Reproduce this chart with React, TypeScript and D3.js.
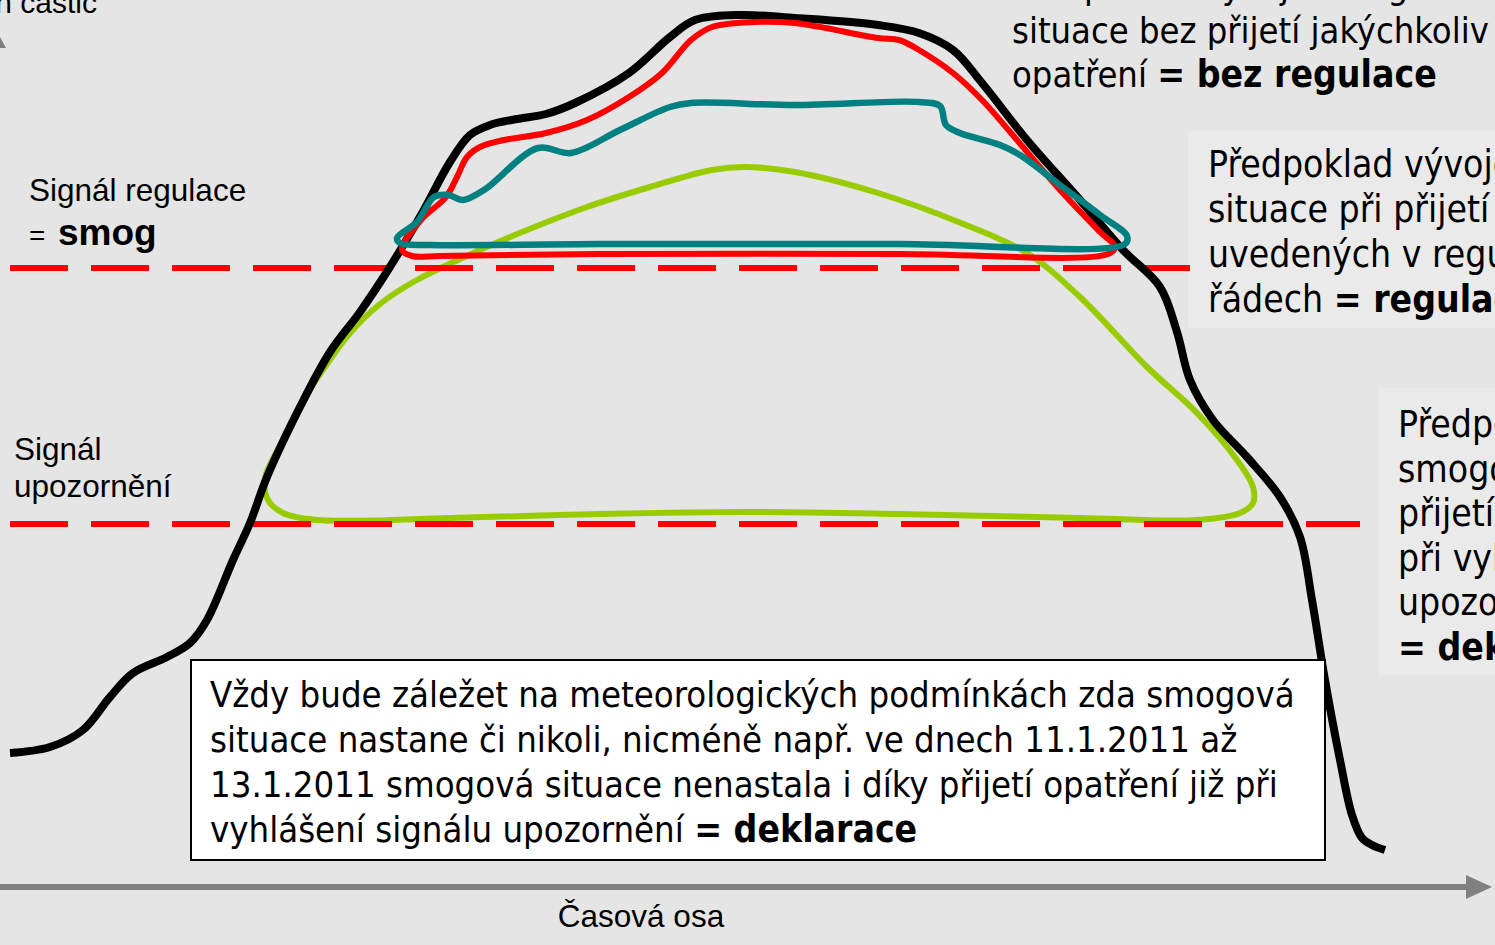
import * as d3 from 'd3';

const W = 1495;
const H = 945;

// time (x) and concentration (y) in chart units
const bezRegulace: [number, number][] = [
  [1.0, 13.4], [5.0, 14.0], [8.3, 15.7], [11.0, 19.0], [13.3, 21.4], [16.7, 23.0], [19.0, 24.4],
  [20.7, 26.7], [23.3, 32.7], [25.0, 36.4], [26.7, 41.0], [30.0, 48.0], [33.0, 53.5], [36.0, 57.5],
  [38.8, 61.7], [42.1, 67.2], [45.0, 72.5], [47.0, 75.2], [49.0, 76.2], [51.7, 76.8], [54.6, 77.3], [57.5, 78.4],
  [62.9, 81.4], [67.0, 85.0], [69.5, 86.7], [74.1, 87.2], [79.5, 86.9], [87.8, 86.2], [91.9, 85.4],
  [95.3, 83.7], [98.2, 80.4], [102.7, 74.7], [108.0, 68.7], [112.3, 63.7], [116.0, 60.0], [117.7, 55.5],
  [119.0, 50.7], [121.3, 46.7], [124.7, 43.0], [128.0, 39.0], [130.0, 35.0], [131.2, 28.7], [132.5, 20.7],
  [134.0, 12.7], [135.2, 7.2], [136.2, 4.9], [137.2, 4.2], [138.5, 3.7],
];

const regulaceRed: [number, number][] = [
  [40.2, 63.7], [42.1, 66.7], [44.6, 69.0], [45.7, 71.0], [46.7, 73.0], [48.0, 74.0], [50.4, 74.7],
  [54.6, 75.4], [58.7, 76.7], [62.9, 79.0], [66.2, 81.4], [69.1, 84.7], [71.2, 86.0], [75.3, 86.5],
  [79.5, 86.4], [87.8, 84.9], [89.9, 84.7], [91.9, 83.7], [95.3, 81.4], [98.2, 78.7], [101.1, 75.4],
  [106.0, 69.7], [110.0, 65.5], [111.5, 64.0], [110.8, 63.3], [90.0, 63.3], [60.0, 63.3], [44.0, 63.1],
  [41.2, 63.1],
];

const regulaceTeal: [number, number][] = [
  [39.7, 64.9], [41.7, 66.5], [43.4, 69.0], [44.8, 69.2], [46.3, 68.7], [48.4, 69.7], [53.8, 73.9],
  [57.1, 73.4], [62.0, 75.7], [67.0, 78.0], [69.1, 78.4], [79.5, 78.2], [91.9, 78.5], [94.0, 78.1],
  [94.6, 76.2], [96.0, 75.4], [100.0, 74.2], [102.0, 73.2], [106.0, 70.2], [110.0, 67.2], [112.7, 65.1],
  [112.5, 64.3], [90.0, 64.3], [60.0, 64.3], [43.0, 64.2], [40.0, 64.4],
];

const deklarace: [number, number][] = [
  [26.5, 40.9], [28.3, 44.7], [30.0, 48.2], [32.5, 52.0], [35.0, 55.4], [38.0, 58.3], [41.5, 60.6],
  [46.0, 62.8], [51.0, 65.0], [58.7, 68.0], [65.0, 70.0], [71.2, 71.7], [74.5, 72.0], [79.5, 71.5], [87.8, 69.4],
  [96.1, 66.4], [102.7, 63.4], [108.0, 59.0], [114.7, 52.0], [119.7, 47.4], [123.7, 42.7], [125.3, 40.0],
  [125.3, 38.4], [124.0, 37.4], [119.7, 36.7], [108.0, 36.9], [90.0, 37.3], [75.0, 37.5], [60.0, 37.3],
  [45.0, 36.9], [31.7, 36.7], [28.3, 37.4], [26.8, 38.7],
];

// signal thresholds: [level, x start, x end]
const signalSmog = [61.9, 1.0, 119.0];
const signalWarning = [36.3, 1.0, 136.0];

const topRightLines = ['Předpoklad vývoje smogové', 'situace bez přijetí jakýchkoliv'];
const topRightLast = ['opatření ', '=  bez regulace'];
const box1Lines = ['Předpoklad vývoje smogové', 'situace při přijetí opatření', 'uvedených v regulačních'];
const box1Last = ['řádech ', '= regulace'];
const box2Lines = ['Předpoklad vývoje', 'smogové situace při', 'přijetí opatření již', 'při vyhlášení signálu', 'upozornění'];
const box2Last = ['', '= deklarace'];
const noteLines = [
  'Vždy bude záležet na meteorologických podmínkách zda smogová',
  'situace nastane či nikoli, nicméně např. ve dnech 11.1.2011 až',
  '13.1.2011 smogová situace nenastala i díky přijetí opatření již při',
];
const noteLast = ['vyhlášení signálu upozornění ', '= deklarace'];

const ARIAL = "'Liberation Sans', Arial, sans-serif";
const TAHOMA = "Tahoma, 'DejaVu Sans Condensed', 'DejaVu Sans', sans-serif";

export default function App() {
  const x = d3.scaleLinear().domain([0, 149.5]).range([0, W]);
  const y = d3.scaleLinear().domain([0, 88.7]).range([887, 0]);

  const open = d3.line<[number, number]>().x((d) => x(d[0])).y((d) => y(d[1])).curve(d3.curveCatmullRom.alpha(0.5));
  const closed = d3.line<[number, number]>().x((d) => x(d[0])).y((d) => y(d[1])).curve(d3.curveCatmullRomClosed.alpha(0.5));

  const taStyle = { fontFamily: TAHOMA, fontStretch: 'condensed' as const };

  const lines = (list: string[], last: string[], x0: number, y0: number, step: number, size: number, boldSize = size) => (
    <g style={taStyle} fontSize={size} fill="#000">
      {list.map((t, i) => (
        <text key={i} x={x0} y={y0 + i * step}>{t}</text>
      ))}
      <text x={x0} y={y0 + list.length * step}>
        {last[0]}<tspan fontWeight="bold" fontSize={boldSize}>{last[1]}</tspan>
      </text>
    </g>
  );

  return (
    <svg width={W} height={H} style={{ position: 'absolute', left: 0, top: 0, display: 'block' }}>
      <rect width={W} height={H} fill="#e5e5e5" />

      {/* axes */}
      <line x1={0} x2={1470} y1={887} y2={887} stroke="#808080" strokeWidth={6} />
      <path d="M1466,875 L1492,887 L1466,899 Z" fill="#808080" />
      <path d="M-6,26 L6,48 L-18,48 Z" fill="#808080" />
      <text x={97} y={13} fontFamily={ARIAL} fontSize={30} textAnchor="end">Koncentrace prachových částic</text>
      <text x={641} y={927} fontFamily={ARIAL} fontSize={31.5} textAnchor="middle">Časová osa</text>

      {/* side boxes */}
      <rect x={1188} y={131} width={320} height={197} fill="#eaeaea" />
      <rect x={1378} y={388} width={130} height={287} fill="#eaeaea" />

      {/* curves */}
      <path d={closed(deklarace) ?? ''} fill="none" stroke="#99cc00" strokeWidth={6} />
      {[signalSmog, signalWarning].map(([lvl, a, b], i) => (
        <line key={i} x1={x(a)} x2={x(b)} y1={y(lvl)} y2={y(lvl)} stroke="#ff0000" strokeWidth={6} strokeDasharray="58,23" />
      ))}
      <path d={open(bezRegulace) ?? ''} fill="none" stroke="#000" strokeWidth={8} strokeLinejoin="round" />
      <path d={closed(regulaceRed) ?? ''} fill="none" stroke="#ff0000" strokeWidth={6} />
      <path d={closed(regulaceTeal) ?? ''} fill="none" stroke="#008080" strokeWidth={6.5} />

      {/* left labels */}
      <g fontFamily={ARIAL} fill="#000">
        <text x={29} y={201} fontSize={31.5}>Signál regulace</text>
        <text x={29} y={245} fontSize={28}>=</text>
        <text x={58} y={245} fontSize={37} fontWeight="bold">smog</text>
        <text x={14} y={460} fontSize={31.5}>Signál</text>
        <text x={14} y={497} fontSize={31.5}>upozornění</text>
      </g>

      {lines(topRightLines, topRightLast, 1012, -1, 44, 36, 37)}
      {lines(box1Lines, box1Last, 1208, 177, 45, 37)}
      {lines(box2Lines, box2Last, 1398, 437, 44.6, 37)}

      {/* note */}
      <rect x={191} y={660} width={1134} height={200} fill="#fff" stroke="#000" strokeWidth={2} />
      {lines(noteLines, noteLast, 210, 707, 45, 36.2, 37)}
    </svg>
  );
}
